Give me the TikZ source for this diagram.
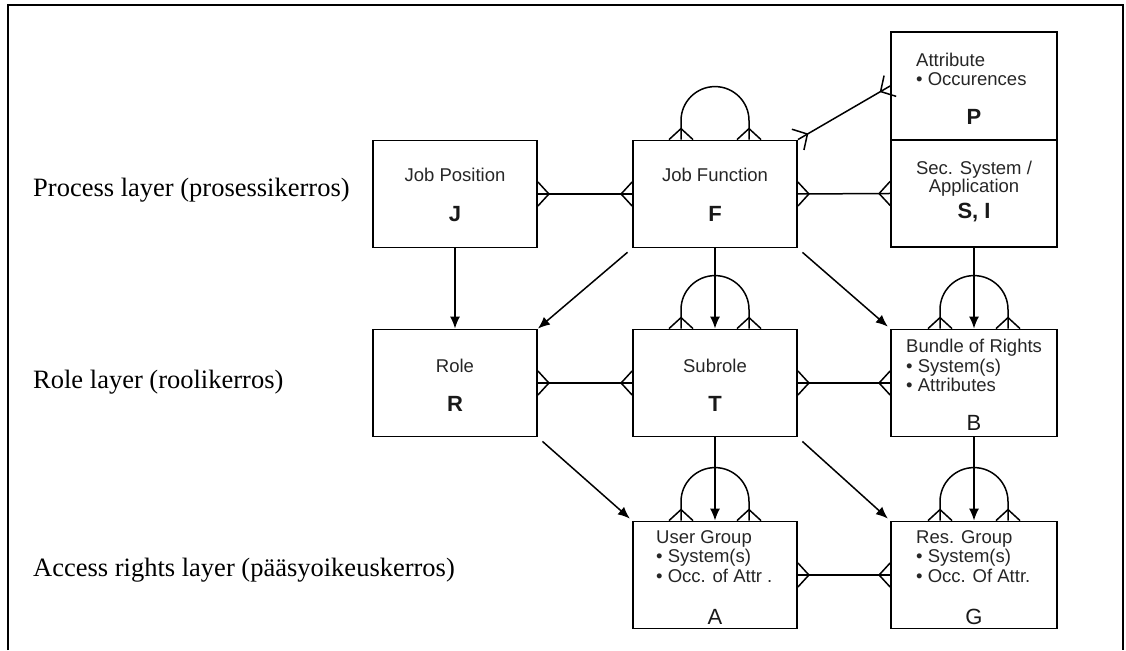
\documentclass[tikz,border=0pt]{standalone}
\usepackage{fontspec}
\setmainfont{Liberation Serif}
\setsansfont{Liberation Sans}
\usetikzlibrary{calc,arrows.meta}
\tikzset{
  box/.style={draw, line width=1.8pt, minimum width=164pt, minimum height=107pt, inner sep=0pt},
  wbox/.style={box, minimum width=166pt},
  conn/.style={line width=1.5pt},
  arr/.style={conn, -{Latex[length=12pt,width=10pt]}},
  lbl/.style={font=\fontsize{26.5}{30}\selectfont, anchor=west, inner sep=0pt},
  nm/.style={font=\sffamily\fontsize{18.5}{20}\selectfont, text=black!85, inner sep=0pt, text height=13.5pt, text depth=3.5pt},
  nml/.style={nm, anchor=west},
  ltrb/.style={font=\sffamily\bfseries\fontsize{22}{24}\selectfont, text=black!90, inner sep=0pt},
  ltrr/.style={font=\sffamily\fontsize{22}{24}\selectfont, text=black!90, inner sep=0pt}
}
\newcommand\crowft[2]{\draw[conn, line join=miter] ($(#1)!12pt!90:(#2)$) -- ($(#1)!11pt!(#2)$) -- ($(#1)!12pt!-90:(#2)$);}
\newcommand\selfloop[1]{%
  \coordinate (#1l) at ([xshift=-34pt]#1.north);
  \coordinate (#1r) at ([xshift=34pt]#1.north);
  \coordinate (#1lu) at ([yshift=19pt]#1l);
  \coordinate (#1ru) at ([yshift=19pt]#1r);
  \draw[conn] (#1l) -- (#1lu) arc[start angle=180,end angle=0,radius=34pt] -- (#1r);
  \crowft{#1l}{#1lu}
  \crowft{#1r}{#1ru}}
\begin{document}
\begin{tikzpicture}[x=1pt,y=1pt]
\useasboundingbox (0,0) rectangle (1126,650);
% frame
\draw[line width=1.8pt] (8,0) -- (8,645) -- (1123,645) -- (1123,0);

% layer labels
\node[lbl] (L1) at (33,460) {Process layer (prosessikerros)};
\node[lbl] (L2) at (33,268) {Role layer (roolikerros)};
\node[lbl] (L3) at (33,80) {Access rights layer (pääsyoikeuskerros)};

% boxes
\node[box] (J) at (455,456) {};
\node[box] (F) at (715,456) {};
\node[wbox, minimum height=108pt] (P) at (974,564) {};
\node[wbox] (S) at (974,456.5) {};
\node[box] (R) at (455,267) {};
\node[box] (T) at (715,267) {};
\node[wbox] (B) at (974,267) {};
\node[box] (A) at (715,75) {};
\node[wbox] (G) at (974,75) {};

% texts
\node[nm] (Jn) at (455,473) {Job Position};
\node[ltrb] (Jc) at (455,436) {J};
\node[nm] (Fn) at (715,473) {Job Function};
\node[ltrb] (Fc) at (715,436) {F};
\node[nml] (Pn1) at (916,588) {Attribute};
\node[nml] (Pn2) at (916,569) {• Occurences};
\node[ltrb] (Pc) at (974,533) {P};
\node[nm] (Sn1) at (974,480) {Sec. System /};
\node[nm] (Sn2) at (974,462) {Application};
\node[ltrb] (Sc) at (974,437) {S, I};
\node[nm] (Rn) at (455,282) {Role};
\node[ltrb] (Rc) at (455,246) {R};
\node[nm] (Tn) at (715,282) {Subrole};
\node[ltrb] (Tc) at (715,246) {T};
\node[nml] (Bn1) at (906,302) {Bundle of Rights};
\node[nml] (Bn2) at (906,282) {• System(s)};
\node[nml] (Bn3) at (906,263) {• Attributes};
\node[ltrr] (Bc) at (974,227) {B};
\node[nml] (An1) at (656,111) {User Group};
\node[nml] (An2) at (656,92) {• System(s)};
\node[nml] (An3) at (656,72) {• Occ. of Attr .};
\node[ltrr] (Ac) at (715,33) {A};
\node[nml] (Gn1) at (916,111) {Res. Group};
\node[nml] (Gn2) at (916,92) {• System(s)};
\node[nml] (Gn3) at (916,72) {• Occ. Of Attr.};
\node[ltrr] (Gc) at (974,33) {G};

% many-to-many connectors
\draw[conn] (J.east) -- (F.west);
\crowft{J.east}{F.west}
\crowft{F.west}{J.east}
\draw[conn] (F.east) -- (S.west);
\crowft{F.east}{S.west}
\crowft{S.west}{F.east}
\draw[conn] (F.north east) -- (P.west);
\crowft{F.north east}{P.west}
\crowft{P.west}{F.north east}
\draw[conn] (R.east) -- (T.west);
\crowft{R.east}{T.west}
\crowft{T.west}{R.east}
\draw[conn] (T.east) -- (B.west);
\crowft{T.east}{B.west}
\crowft{B.west}{T.east}
\draw[conn] (A.east) -- (G.west);
\crowft{A.east}{G.west}
\crowft{G.west}{A.east}

% self loops
\selfloop{F}
\selfloop{T}
\selfloop{B}
\selfloop{A}
\selfloop{G}

% arrows
\draw[arr] (J.south) -- (R.north);
\draw[arr, shorten <=6pt] (F.south west) -- (R.north east);
\draw[arr, shorten <=6pt, shorten >=3pt] (F.south east) -- (B.north west);
\draw[arr] (F.south) -- (T.north);
\draw[arr] (S.south) -- (B.north);
\draw[arr, shorten <=6pt, shorten >=3pt] (R.south east) -- (A.north west);
\draw[arr, shorten <=6pt, shorten >=3pt] (T.south east) -- (G.north west);
\draw[arr] (T.south) -- (A.north);
\draw[arr] (B.south) -- (G.north);
\end{tikzpicture}
\end{document}
